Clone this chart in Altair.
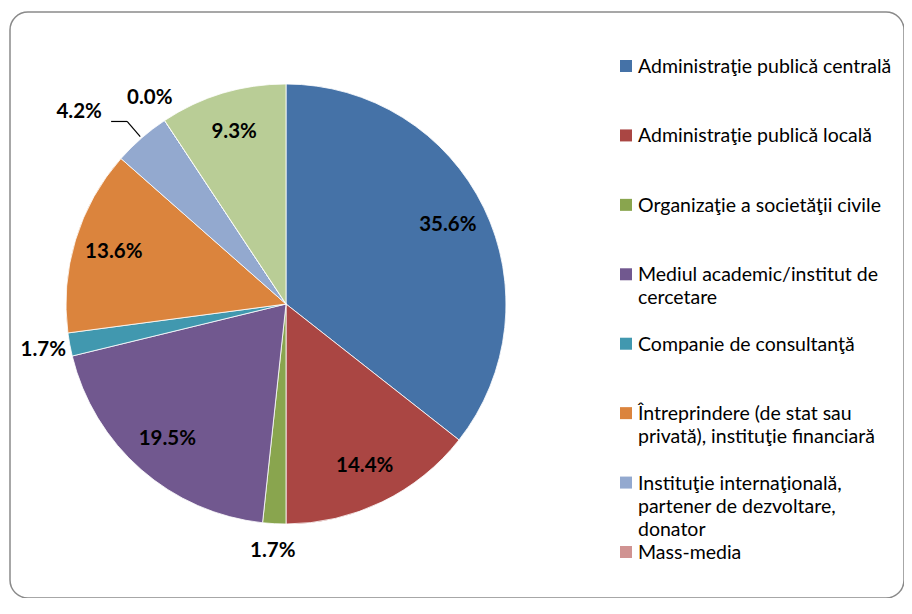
import altair as alt
import pandas as pd

categories = [
    "Administraţie publică centrală",
    "Administraţie publică locală",
    "Organizaţie a societăţii civile",
    "Mediul academic/institut de cercetare",
    "Companie de consultanţă",
    "Întreprindere (de stat sau privată), instituţie financiară",
    "Instituţie internaţională, partener de dezvoltare, donator",
    "Mass-media",
    "Altele",
]
legend_labels = [
    "Administraţie publică centrală",
    "Administraţie publică locală",
    "Organizaţie a societăţii civile",
    "Mediul academic/institut de\ncercetare",
    "Companie de consultanţă",
    "Întreprindere (de stat sau\nprivată), instituţie financiară",
    "Instituţie internaţională,\npartener de dezvoltare,\ndonator",
    "Mass-media",
    "Altele",
]
values = [35.6, 14.4, 1.7, 19.5, 1.7, 13.6, 4.2, 0.0, 9.3]
colors = ["#4572A7", "#AA4643", "#89A54E", "#71588F", "#4198AF",
          "#DB843D", "#93A9CF", "#D09392", "#B9CD96"]
legend_rows_shown = 8  # the last entry is cut off by the frame in the original

df = pd.DataFrame({
    "idx": list(range(len(categories))),
    "cat": categories,
    "value": values,
    "label": legend_labels,
})

CX, CY, R = 276, 292, 220
FONT = "Lato"

color = alt.Color("cat:N", scale=alt.Scale(domain=categories, range=colors), legend=None)
theta = alt.Theta("value:Q", stack=True)
order = alt.Order("idx:Q")

base = alt.Chart(df)

pie = base.mark_arc(outerRadius=R, stroke="white", strokeWidth=0.8).encode(
    theta=theta, order=order, color=color, x=alt.value(CX), y=alt.value(CY)
)

def pct_layer(cond, **mark):
    return base.transform_calculate(
        txt=f"({cond}) ? format(datum.value, '.1f') + '%' : ''"
    ).mark_text(font=FONT, fontSize=20.5, fontWeight="bold", color="black",
                baseline="middle", align="center", **mark).encode(
        theta=theta, order=order, text="txt:N", x=alt.value(CX), y=alt.value(CY)
    )

inside = pct_layer("datum.value >= 5", radius=180)
outside = pct_layer("datum.value < 2", radius=247)
leader_txt = pct_layer("datum.value >= 2 && datum.value < 5", radius=242, dx=-48, dy=-9)

geo = base.transform_window(
    cum="sum(value)", sort=[alt.SortField("idx")], frame=[None, 0]
).transform_joinaggregate(total="sum(value)").transform_calculate(
    mid="(datum.cum - datum.value/2) / datum.total * 2 * PI"
).transform_filter("datum.value >= 2 && datum.value < 5").transform_calculate(
    x0=f"{CX} + {R + 2} * sin(datum.mid)",
    y0=f"{CY} - {R + 2} * cos(datum.mid)",
    x1=f"{CX} + {R + 22} * sin(datum.mid)",
    y1=f"{CY} - {R + 22} * cos(datum.mid)",
    x2=f"{CX} + {R + 22} * sin(datum.mid) - 16",
)
lead1 = geo.mark_rule(color="black", strokeWidth=1.2).encode(
    x=alt.X("x0:Q", scale=None), y=alt.Y("y0:Q", scale=None),
    x2="x1:Q", y2="y1:Q",
)
lead2 = geo.mark_rule(color="black", strokeWidth=1.2).encode(
    x=alt.X("x1:Q", scale=None), y=alt.Y("y1:Q", scale=None),
    x2="x2:Q", y2="y1:Q",
)

leg = base.transform_filter(f"datum.idx < {legend_rows_shown}")
ly = alt.Y("idx:Q", scale=alt.Scale(domain=[0, 7], range=[54, 540]), axis=None)
leg_sq = leg.mark_square(size=144, opacity=1).encode(
    x=alt.value(616), y=ly, color=color
)
leg_txt = leg.mark_text(font=FONT, fontSize=19.5, color="black", align="left",
                        baseline="alphabetic", dy=7, lineBreak="\n",
                        lineHeight=23).encode(
    x=alt.value(628), y=ly, text="label:N"
)

chart = alt.layer(pie, inside, outside, leader_txt, lead1, lead2, leg_sq, leg_txt).properties(
    width=894, height=586,
    padding={"left": 2, "top": 4, "right": 0, "bottom": 0},
    autosize=alt.AutoSizeParams(type="none"),
    background="white",
).configure_view(stroke="#8a8a8a", strokeWidth=1.5, cornerRadius=18)

chart.save("out.html", embed_options={"renderer": "svg", "actions": False})
